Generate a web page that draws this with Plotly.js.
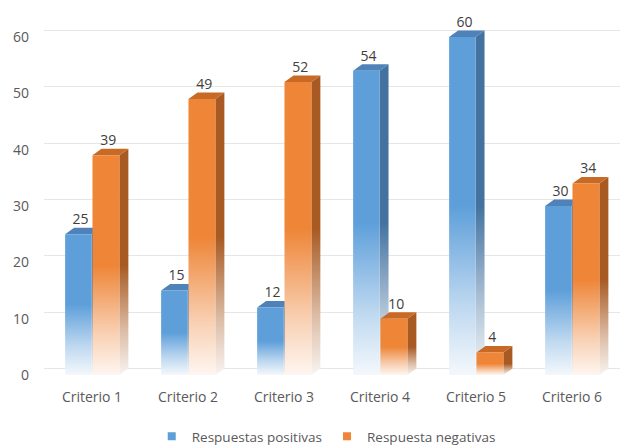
<!DOCTYPE html>
<html>
<head>
<meta charset="utf-8">
<script src="https://cdn.plot.ly/plotly-3.0.1.min.js"></script>
<style>html,body{margin:0;padding:0;background:#fff;}#chart{width:633px;height:445px;}</style>
</head>
<body>
<div id="chart"></div>
<script>
// ---- data ----
const categories = ["Criterio 1", "Criterio 2", "Criterio 3", "Criterio 4", "Criterio 5", "Criterio 6"];
const positivas = [25, 15, 12, 54, 60, 30];
const negativas = [39, 49, 52, 10, 4, 34];
const seriesNames = ["Respuestas positivas", "Respuesta negativas"];
const yTicks = [0, 10, 20, 30, 40, 50, 60];

// ---- style ----
const FONT = "Open Sans, DejaVu Sans, sans-serif";
const styles = [
  {front: [94, 159, 218], side: [68, 114, 160], top: [78, 130, 184], x0: -0.28, x1: -0.005},
  {front: [238, 133, 55], side: [168, 90, 34], top: [200, 106, 38], x0: 0.005, x1: 0.285}
];
const DX = 0.094, DY = 1.15;

function mix(c, t) { // t = amount of white
  return 'rgb(' + c.map(v => Math.round(v + (255 - v) * t)).join(',') + ')';
}
function fade(c) {
  return [[0, mix(c, 0.93)], [0.2, mix(c, 0.6)], [0.5, mix(c, 0)], [1, mix(c, 0)]];
}

const traces = [];
const seriesData = [positivas, negativas];
categories.forEach((cat, i) => {
  seriesData.forEach((vals, s) => {
    const st = styles[s];
    const v = vals[i];
    const xl = i + st.x0, xr = i + st.x1;
    // side face
    traces.push({
      type: 'scatter', mode: 'lines', fill: 'toself', line: {width: 0},
      x: [xr, xr, xr + DX, xr + DX, xr], y: [0, v, v + DY, DY, 0],
      fillgradient: {type: 'vertical', start: 0, stop: v, colorscale: fade(st.side)},
      showlegend: false, hoverinfo: 'skip'
    });
    // top face
    traces.push({
      type: 'scatter', mode: 'lines', fill: 'toself', line: {width: 0},
      x: [xl, xr, xr + DX, xl + DX, xl], y: [v, v, v + DY, v + DY, v],
      fillcolor: mix(st.top, 0), showlegend: false, hoverinfo: 'skip'
    });
    // front face
    traces.push({
      type: 'scatter', mode: 'lines', fill: 'toself', line: {width: 0},
      x: [xl, xr, xr, xl, xl], y: [0, 0, v, v, 0],
      fillgradient: {type: 'vertical', start: 0, stop: v, colorscale: fade(st.front)},
      showlegend: false, hoverinfo: 'skip'
    });
  });
});

// data labels
seriesData.forEach((vals, s) => {
  const st = styles[s];
  traces.push({
    type: 'scatter', mode: 'text', cliponaxis: false,
    x: categories.map((c, i) => i + (st.x0 + st.x1) / 2 + DX / 4),
    y: vals.map(v => v + DY),
    text: vals.map(String), textposition: 'top center',
    textfont: {family: FONT, size: 14, color: '#404040'},
    showlegend: false, hoverinfo: 'skip'
  });
});

// legend entries
seriesData.forEach((vals, s) => {
  traces.push({
    type: 'scatter', mode: 'markers', x: [null], y: [null], yaxis: 'y2',
    name: seriesNames[s],
    marker: {symbol: 'square', size: 8, color: mix(styles[s].front, 0)},
    hoverinfo: 'skip'
  });
});

const layout = {
  width: 633, height: 445,
  margin: {l: 44, r: 13, t: 20, b: 58, autoexpand: false},
  paper_bgcolor: '#fff', plot_bgcolor: 'rgba(0,0,0,0)',
  font: {family: FONT, size: 14, color: '#595959'},
  showlegend: true,
  legend: {orientation: 'h', x: 0.49, xanchor: 'center', y: -0.135, yanchor: 'middle',
    font: {family: FONT, size: 13.5, color: '#595959'}, itemwidth: 30, tracegroupgap: 0},
  xaxis: {range: [-0.5, 5.5], tickvals: categories.map((c, i) => i), ticktext: categories,
    showgrid: false, zeroline: false, showline: false, ticks: '', fixedrange: true},
  yaxis: {range: [-2.13, 63], tickvals: yTicks, showgrid: false, zeroline: false,
    showline: false, ticks: '', ticklabelstandoff: 14, fixedrange: true},
  yaxis2: {overlaying: 'y', range: [-2.13 - DY, 63 - DY], tickvals: yTicks, showgrid: true,
    gridcolor: '#e6e6e6', gridwidth: 1, showticklabels: false, zeroline: false, showline: false,
    ticks: '', fixedrange: true}
};

Plotly.newPlot('chart', traces, layout, {displayModeBar: false, staticPlot: true});
</script>
</body>
</html>
